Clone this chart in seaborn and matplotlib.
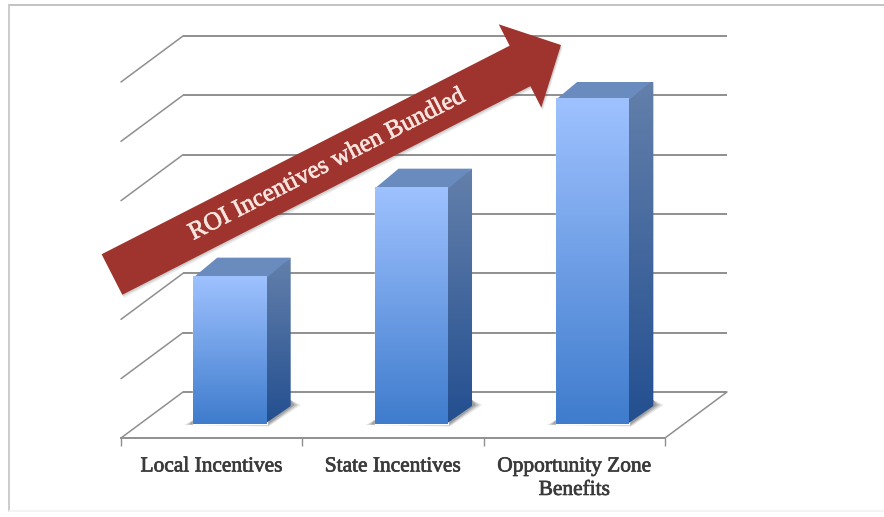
import numpy as np
import matplotlib
matplotlib.use("Agg")
import matplotlib.pyplot as plt
import matplotlib.patches as mpatches
import matplotlib.patheffects as pe
from matplotlib.colors import LinearSegmentedColormap
from matplotlib.lines import Line2D
from matplotlib.transforms import Affine2D
import seaborn as sns

categories = ["Local Incentives", "State Incentives", "Opportunity Zone\nBenefits"]
values = [2.5, 4.0, 5.5]
grid_levels = [0, 1, 2, 3, 4, 5, 6]
arrow_label = "ROI Incentives when Bundled"

W, H = 884, 517
sns.set_theme(style="white")
plt.rcParams["font.family"] = ["Liberation Serif", "DejaVu Serif"]

fig = plt.figure(figsize=(W / 100, H / 100), dpi=100, facecolor="white")
ax = fig.add_axes([121 / W, 1 - 438 / H, 544 / W, 356 / H])
ax.patch.set_alpha(0)

# Oblique projection, in data units: one category = 181.3 px, one unit = 59.3 px
PX_X, PX_Y = 1 / 181.33, 1 / 59.33
WALL_DX, WALL_DY = 62 * PX_X, 46 * PX_Y
SHIFT_X, SHIFT_Y = 18.3 * PX_X, 14 * PX_Y
DEPTH_X, DEPTH_Y = 24 * PX_X, 18 * PX_Y
LINE = "#8f8f8f"

sns.barplot(x=categories, y=values, width=0.405, color="#6f9fe6", saturation=1, ax=ax, zorder=3)

ax.set_xlim(-0.5, 2.5)
ax.set_ylim(0, 6)

# Back wall, side wall and floor edges
for level in grid_levels:
    ax.plot([-0.5 + WALL_DX, 2.5 + WALL_DX], [level + WALL_DY] * 2, color=LINE, lw=1.4,
            clip_on=False, zorder=1, solid_capstyle="butt")
    ax.plot([-0.5, -0.5 + WALL_DX], [level, level + WALL_DY], color=LINE, lw=1.1,
            clip_on=False, zorder=1)
ax.plot([2.5, 2.5 + WALL_DX], [0, WALL_DY], color=LINE, lw=1.1, clip_on=False, zorder=1)


def gradient_face(verts, top, bottom, zorder):
    """Fill a polygon with a vertical gradient running from bottom to top colour."""
    verts = np.asarray(verts)
    poly = mpatches.Polygon(verts, closed=True, facecolor="none", edgecolor="none",
                            transform=ax.transData)
    ax.add_patch(poly)
    cmap = LinearSegmentedColormap.from_list("face", [bottom, top])
    img = ax.imshow(np.linspace(0, 1, 128)[:, None], origin="lower", cmap=cmap, aspect="auto",
                    extent=[verts[:, 0].min(), verts[:, 0].max(), verts[:, 1].min(), verts[:, 1].max()],
                    zorder=zorder, interpolation="bilinear")
    img.set_clip_path(poly)


bars = list(ax.patches)
for bar in [b for b in bars if isinstance(b, mpatches.Rectangle)]:
    x0 = bar.get_x() + SHIFT_X
    x1 = x0 + bar.get_width()
    y0 = SHIFT_Y
    y1 = y0 + bar.get_height()

    # Soft contact shadow on the floor, thickest against the bar
    for grow, alpha in [(1.0, 0.14), (0.7, 0.22), (0.4, 0.30)]:
        ax.add_patch(mpatches.Polygon(
            [[x0 - 9 * PX_X * grow, y0 - 1 * PX_Y * grow],
             [x1 + 2 * PX_X * grow, y0 - 2.5 * PX_Y * grow],
             [x1 + DEPTH_X + 10 * PX_X * grow, y0 + DEPTH_Y + 1 * PX_Y],
             [x1 + DEPTH_X, y0 + DEPTH_Y + 6 * PX_Y],
             [x1, y0 + 4 * PX_Y], [x0, y0 + 4 * PX_Y]],
            closed=True, facecolor="#4d4d4d", edgecolor="none", alpha=alpha, zorder=2))

    # Front face keeps the bar's own geometry, moved onto the floor plane
    bar.set_transform(Affine2D().translate(SHIFT_X, SHIFT_Y) + ax.transData)
    bar.set_clip_on(False)
    bar.set_facecolor("none")

    # Right side and top faces sit under the front face so no seam shows
    gradient_face([[x1 - 2 * PX_X, y0], [x1 + DEPTH_X, y0 + DEPTH_Y], [x1 + DEPTH_X, y1 + DEPTH_Y],
                   [x1 - 2 * PX_X, y1]], "#6480ab", "#234f90", 4)
    ax.add_patch(mpatches.Polygon(
        [[x0, y1 - 2 * PX_Y], [x1, y1 - 2 * PX_Y], [x1 + DEPTH_X, y1 + DEPTH_Y], [x0 + DEPTH_X, y1 + DEPTH_Y]],
        closed=True, facecolor="#6a8bbd", edgecolor="none", zorder=4))
    gradient_face([[x0, y0], [x1, y0], [x1, y1], [x0, y1]], "#9fc2ff", "#3f7ccd", 5)

ax.set_xlim(-0.5, 2.5)
ax.set_ylim(0, 6)

# Axis styling
for side in ["top", "left", "right"]:
    ax.spines[side].set_visible(False)
ax.spines["bottom"].set_color(LINE)
ax.spines["bottom"].set_linewidth(1.4)
ax.set_yticks([])
ax.set_xlabel("")
ax.set_ylabel("")
ax.set_xticks([-0.5, 0.5, 1.5, 2.5], minor=True)
ax.tick_params(axis="x", which="minor", bottom=True, length=6, width=1.0, color=LINE)
ax.tick_params(axis="x", which="major", bottom=False, length=0, pad=14, labelsize=15.4,
               labelcolor="#3a3a3a")
for label in ax.get_xticklabels():
    label.set_linespacing(1.32)
    label.set_path_effects([pe.withStroke(linewidth=0.5, foreground="#3a3a3a")])

# Overlay drawn in pixel space: top-left origin
px = Affine2D().scale(1 / W, -1 / H).translate(0, 1) + fig.transFigure

tail = np.array([112.0, 274.5])
tip = np.array([561.0, 45.0])
for off, alpha in [(3.0, 0.12), (1.5, 0.18)]:
    fig.add_artist(mpatches.FancyArrow(
        tail[0] + off * 0.5, tail[1] + off, *(tip - tail), width=45.5, head_width=93.5, head_length=46,
        length_includes_head=True, facecolor="#555555", edgecolor="none", alpha=alpha,
        transform=px, zorder=5))
fig.add_artist(mpatches.FancyArrow(
    tail[0], tail[1], *(tip - tail), width=45.5, head_width=93.5, head_length=46,
    length_includes_head=True, facecolor="#9f332e", edgecolor="none", transform=px, zorder=6))
arrow_text = fig.text(327, 165, arrow_label, transform=px, rotation=27.1, rotation_mode="anchor",
                      ha="center", va="center", color="#f6e3de", fontsize=18.2, zorder=7)
arrow_text.set_path_effects([pe.withStroke(linewidth=0.5, foreground="#f6e3de")])

# Thin frame around the slide
fig.add_artist(Line2D([8.5, 884], [4.5, 4.5], color="#b9b9b9", lw=1.2, transform=px))
fig.add_artist(Line2D([8.5, 8.5], [4.5, 511], color="#c4c4c4", lw=1.2, transform=px))
fig.add_artist(Line2D([8.5, 884], [511, 511], color="#f1f1f1", lw=1.2, transform=px))

fig.savefig("out.png", dpi=100, facecolor="white")
